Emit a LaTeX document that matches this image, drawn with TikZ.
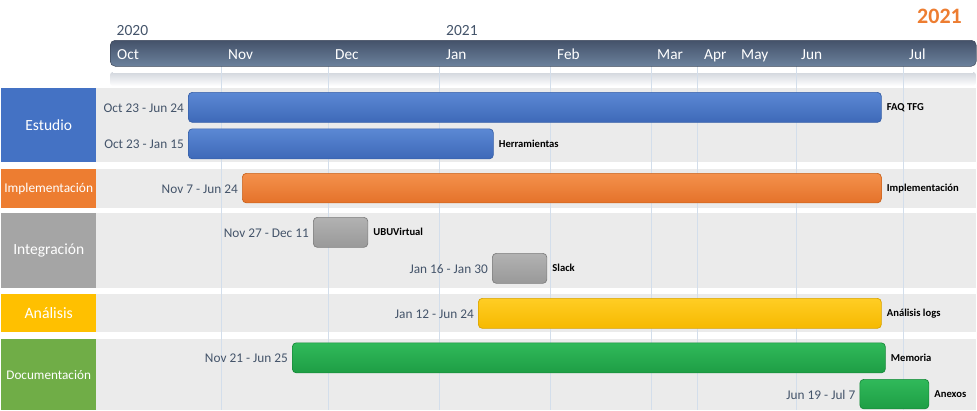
\documentclass[tikz,border=0pt]{standalone}
\usepackage{fontspec}
\setmainfont{Carlito}
\definecolor{rowbg}{HTML}{EBEBEB}
\definecolor{gridc}{HTML}{D3DEEB}
\definecolor{datec}{HTML}{44546A}
\definecolor{hdrT}{HTML}{44526A}
\definecolor{hdrB}{HTML}{6B819C}
\definecolor{hdrD}{HTML}{3C475A}
\definecolor{stripT}{HTML}{D2D6DD}
\definecolor{catBlue}{HTML}{4472C4}
\definecolor{catOrange}{HTML}{ED7D31}
\definecolor{catGray}{HTML}{A5A5A5}
\definecolor{catYellow}{HTML}{FFC000}
\definecolor{catGreen}{HTML}{70AD47}
\definecolor{bBlueT}{HTML}{5B88D4}
\definecolor{bBlueB}{HTML}{3E69B8}
\definecolor{bBlueD}{HTML}{3760A8}
\definecolor{bOrT}{HTML}{F4914C}
\definecolor{bOrB}{HTML}{E4722A}
\definecolor{bOrD}{HTML}{C9641F}
\definecolor{bGrT}{HTML}{B2B2B2}
\definecolor{bGrB}{HTML}{999999}
\definecolor{bGrD}{HTML}{7F7F7F}
\definecolor{bYeT}{HTML}{FFCD24}
\definecolor{bYeB}{HTML}{F6B900}
\definecolor{bYeD}{HTML}{D9A300}
\definecolor{bGnT}{HTML}{30B95A}
\definecolor{bGnB}{HTML}{1E9E45}
\definecolor{bGnD}{HTML}{178A3A}
\definecolor{yearOr}{HTML}{ED7D31}
\tikzset{
  barbox/.style={rounded corners=4pt, draw, line width=0.7pt, anchor=north west, inner sep=0pt, minimum height=30pt},
  bluebar/.style={barbox, top color=bBlueT, bottom color=bBlueB, draw=bBlueD},
  orbar/.style={barbox, top color=bOrT, bottom color=bOrB, draw=bOrD},
  graybar/.style={barbox, top color=bGrT, bottom color=bGrB, draw=bGrD},
  yebar/.style={barbox, top color=bYeT, bottom color=bYeB, draw=bYeD},
  gnbar/.style={barbox, top color=bGnT, bottom color=bGnB, draw=bGnD},
  datelbl/.style={anchor=base east, text=datec, inner sep=0pt, font=\fontsize{13.3}{15}\selectfont},
  tasklbl/.style={anchor=base west, text=black, inner sep=0pt, font=\bfseries\fontsize{10.6}{12}\selectfont},
  catbox/.style={anchor=north west, inner sep=0pt, minimum width=95pt, text=white},
  monthlbl/.style={anchor=base west, text=white, inner sep=0pt, font=\fontsize{15.3}{17}\selectfont},
  yearlbl/.style={anchor=base west, text=datec, inner sep=0pt, font=\fontsize{15.5}{17}\selectfont},
  gridline/.style={draw=gridc, line width=0.6pt},
}
\begin{document}
\begin{tikzpicture}[x=1pt,y=-1pt]
\useasboundingbox (0,0) rectangle (977,410);
% row backgrounds
\fill[rowbg] (96,88) rectangle (976,161.5);
\fill[rowbg] (96,169) rectangle (976,207.5);
\fill[rowbg] (96,213) rectangle (976,287.5);
\fill[rowbg] (96,294) rectangle (976,331.5);
\fill[rowbg] (96,339) rectangle (976,410);
% strip under header
\shade[top color=stripT, bottom color=white, rounded corners=3pt] (110,72) rectangle (976,86);
\draw[white, line width=0.8pt] (113,72.5) -- (973,72.5);
% grid lines
\foreach \gx in {221.5,328.5,439.5,550.5,651,697,796,903}
  \draw[gridline] (\gx,66) -- (\gx,410);
% header bar
\node[anchor=north west, minimum width=866pt, minimum height=26pt, inner sep=0pt, rounded corners=5pt, top color=hdrT, bottom color=hdrB, draw=hdrD, line width=0.5pt] (header) at (110,40) {};
\node[monthlbl] (moct) at (117,59) {Oct};
\node[monthlbl] (mnov) at (228,59) {Nov};
\node[monthlbl] (mdec) at (335,59) {Dec};
\node[monthlbl] (mjan) at (446,59) {Jan};
\node[monthlbl] (mfeb) at (557,59) {Feb};
\node[monthlbl] (mmar) at (657,59) {Mar};
\node[monthlbl] (mapr) at (704,59) {Apr};
\node[monthlbl] (mmay) at (741,59) {May};
\node[monthlbl] (mjun) at (801,59) {Jun};
\node[monthlbl] (mjul) at (909,59) {Jul};
\node[yearlbl] (y2020) at (116.5,35.5) {2020};
\node[yearlbl] (y2021) at (446,35.5) {2021};
\node[anchor=base east, text=yearOr, inner sep=0pt, font=\bfseries\fontsize{22}{24}\selectfont] (ybig) at (962,23) {2021};
% category boxes
\node[catbox, fill=catBlue, minimum height=73.5pt, font=\fontsize{15.5}{17}\selectfont] (cest) at (1,88) {Estudio};
\node[catbox, fill=catOrange, minimum height=38.5pt, font=\fontsize{13.4}{15}\selectfont] (cimp) at (1,169) {Implementación};
\node[catbox, fill=catGray, minimum height=74.5pt, font=\fontsize{15.5}{17}\selectfont] (cint) at (1,213) {Integración};
\node[catbox, fill=catYellow, minimum height=37.5pt, font=\fontsize{15.8}{17}\selectfont] (cana) at (1,294) {Análisis};
\node[catbox, fill=catGreen, minimum height=71pt, font=\fontsize{13.2}{15}\selectfont] (cdoc) at (1,339) {Documentación};
% bars
\node[bluebar, minimum width=693pt] (faq) at (188,92) {};
\node[bluebar, minimum width=305pt] (herr) at (188,128.5) {};
\node[orbar, minimum width=639pt, minimum height=29.5pt] (impl) at (242,173) {};
\node[graybar, minimum width=54.5pt] (ubu) at (313,217) {};
\node[graybar, minimum width=54.5pt] (slack) at (492,253) {};
\node[yebar, minimum width=403pt] (logs) at (478,298) {};
\node[gnbar, minimum width=593pt] (mem) at (292,342.5) {};
\node[gnbar, minimum width=69pt, minimum height=29.5pt] (anx) at (859.5,379) {};
% date labels
\node[datelbl] (dfaq) at ([xshift=-4pt,yshift=-5pt]faq.west) {Oct 23 - Jun 24};
\node[datelbl] (dherr) at ([xshift=-4pt,yshift=-5pt]herr.west) {Oct 23 - Jan 15};
\node[datelbl] (dimpl) at ([xshift=-4pt,yshift=-5pt]impl.west) {Nov 7 - Jun 24};
\node[datelbl] (dubu) at ([xshift=-4pt,yshift=-5pt]ubu.west) {Nov 27 - Dec 11};
\node[datelbl] (dslack) at ([xshift=-4pt,yshift=-5pt]slack.west) {Jan 16 - Jan 30};
\node[datelbl] (dlogs) at ([xshift=-4pt,yshift=-5pt]logs.west) {Jan 12 - Jun 24};
\node[datelbl] (dmem) at ([xshift=-4pt,yshift=-5pt]mem.west) {Nov 21 - Jun 25};
\node[datelbl] (danx) at ([xshift=-4pt,yshift=-5pt]anx.west) {Jun 19 - Jul 7};
% task labels
\node[tasklbl] (tfaq) at ([xshift=5pt,yshift=-3.5pt]faq.east) {FAQ TFG};
\node[tasklbl] (therr) at ([xshift=5pt,yshift=-3.5pt]herr.east) {Herramientas};
\node[tasklbl] (timpl) at ([xshift=5pt,yshift=-3.5pt]impl.east) {Implementación};
\node[tasklbl] (tubu) at ([xshift=5pt,yshift=-3.5pt]ubu.east) {UBUVirtual};
\node[tasklbl] (tslack) at ([xshift=5pt,yshift=-3.5pt]slack.east) {Slack};
\node[tasklbl] (tlogs) at ([xshift=5pt,yshift=-3.5pt]logs.east) {Análisis logs};
\node[tasklbl] (tmem) at ([xshift=5pt,yshift=-3.5pt]mem.east) {Memoria};
\node[tasklbl] (tanx) at ([xshift=5pt,yshift=-3.5pt]anx.east) {Anexos};
\end{tikzpicture}
\end{document}
